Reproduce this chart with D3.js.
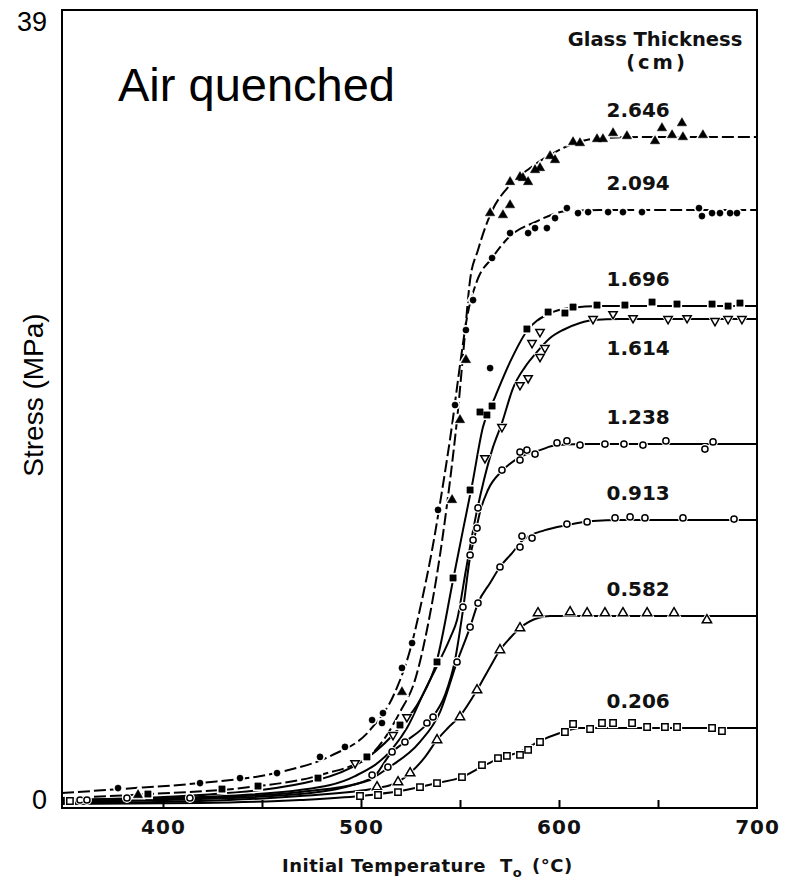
<!DOCTYPE html>
<html>
<head>
<meta charset="utf-8">
<script src="https://cdn.jsdelivr.net/npm/d3@7"></script>
<style>
  body { margin: 0; background: #fff; }
  svg { display: block; }
</style>
</head>
<body>
<div id="chart"></div>
<script>
// glass thickness (cm), one per curve
const thickness = ["2.646", "2.094", "1.696", "1.614", "1.238", "0.913", "0.582", "0.206"];

// fitted curves, [initial temperature °C, stress MPa]
const curve2646 = [[349,0.1],[393.4,0.3],[444,0.65],[479.3,1.25],[504.6,2.25],[519.7,4.41],[527.3,6.02],[533.8,8.77],[539.9,12.28],[545,16.04],[549,19.55],[552,22.81],[555.1,26.07],[559.1,27.57],[565.2,29.32],[575.3,30.83],[585.4,31.68],[595.5,32.33],[608.1,32.93],[620.7,33.18],[640.9,33.23],[700,33.23]];
const curve2094 = [[349,0.35],[378.3,0.55],[418.7,0.85],[459.1,1.4],[484.4,2.2],[504.6,3.51],[517.2,5.41],[524.8,7.52],[530.8,10.03],[535.9,12.53],[541,15.54],[546,18.8],[550,21.8],[553.5,24.16],[558.6,26.02],[566.2,27.17],[575.3,28.27],[587.9,28.97],[604,29.52],[620.7,29.57],[700,29.57]];
const curve1696 = [[349,0],[418.7,0.25],[477.8,1.0],[503,2.1],[519.7,3.66],[529.8,5.01],[538.4,7.02],[546.5,11.03],[551.5,13.53],[556.1,15.79],[561.6,18.7],[567.7,20.2],[575.3,21.96],[583.8,23.51],[594.5,24.36],[605.6,24.66],[620.7,24.76],[700,24.76]];
const curve1614 = [[349,0],[418.7,0.15],[469.2,0.5],[497,1.2],[516.2,2.61],[523.2,3.61],[532.3,5.51],[539.9,7.02],[545,8.12],[548.5,9.02],[553,11.53],[557.6,14.03],[562.1,16.04],[566.2,17.54],[571.2,18.9],[576.8,20.65],[582.8,21.7],[588.9,22.46],[595.5,23.16],[602,23.56],[610.6,23.91],[617.2,24.06],[630.8,24.11],[700,24.11]];
const curve1238 = [[349,-0.05],[418.7,0.1],[469.2,0.4],[504.6,1.0],[515.7,2.41],[522.2,2.91],[534.9,4.01],[542.4,5.26],[547.5,7.02],[551.5,9.52],[555.1,12.18],[557.6,13.28],[560.1,14.44],[564.1,15.54],[571.2,16.49],[580.3,17.19],[590.4,17.54],[599,17.79],[615.7,17.84],[700,17.84]];
const curve0913 = [[349,-0.1],[418.7,0.05],[469.2,0.3],[505.6,1.1],[513.6,1.6],[529.8,2.91],[539.9,4.41],[548.5,6.92],[555.1,8.67],[559.1,9.87],[565.2,10.88],[570.2,11.68],[576.3,12.38],[581.8,13.03],[592.9,13.53],[604,13.78],[617.2,13.98],[630.8,14.03],[700,14.03]];
const curve0582 = [[349,-0.15],[418.7,-0.05],[469.2,0.2],[508.1,0.6],[518.7,0.9],[524.8,1.35],[532.3,2.15],[538.4,3.01],[543.9,3.61],[550,4.21],[558.6,5.51],[565.2,6.67],[570.2,7.52],[575.3,8.12],[580.3,8.62],[589.4,9.12],[595.5,9.22],[700,9.22]];
const curve0206 = [[349,-0.2],[418.7,-0.15],[469.2,0],[499.5,0.2],[519.7,0.45],[538.4,0.85],[551,1.15],[561.6,1.7],[570.2,2.1],[580.3,2.41],[590.4,2.96],[600.5,3.36],[610.6,3.61],[700,3.61]];

// measured points
const pts2646 = [[387.4,0.25],[520.7,5.41],[546,15.04],[550,19.05],[553,22.06],[556.1,25.06],[565.2,29.42],[571.7,29.32],[575.3,29.82],[575.3,30.98],[580.3,31.23],[581.8,31.18],[584.4,30.98],[587.9,31.58],[590.4,31.68],[595.5,32.28],[598,32.08],[607.1,32.98],[610.6,32.93],[619.2,33.13],[622.2,33.13],[627.3,33.43],[634.3,33.28],[648.5,33.03],[652,33.68],[657.1,33.33],[662.1,33.93],[662.6,33.23],[672.7,33.33]];
const pts2094 = [[377.3,0.6],[418.7,0.85],[438.9,1.1],[457.6,1.35],[479.3,2.16],[491.9,2.66],[505.6,4.01],[510.6,3.86],[511.1,4.36],[520.7,6.62],[525.8,7.87],[538.9,14.54],[547.5,19.8],[553,23.56],[556.6,25.06],[565.2,21.65],[566.2,27.17],[575.3,28.42],[584.4,28.42],[587.9,28.67],[593.9,28.67],[598,29.17],[604,29.67],[609.6,29.42],[614.7,29.47],[624.8,29.47],[632.3,29.47],[641.9,29.47],[670.7,29.67],[672.2,29.27],[677.3,29.42],[681.3,29.42],[686.4,29.42],[689.9,29.42]];
const pts1696 = [[392.4,0.3],[429.8,0.55],[448,0.7],[478.3,1.1],[503,2.16],[519.7,3.76],[538.4,6.92],[546.5,11.13],[555.1,15.54],[560.1,19.45],[563.6,19.3],[566.2,19.75],[583.8,23.61],[594.5,24.46],[603,24.41],[607.1,24.71],[619.2,24.81],[633.3,24.81],[647,24.96],[659.6,24.86],[677.3,24.86],[685.4,24.76],[691.4,24.91]];
const pts1614 = [[497,1.85],[516.2,3.26],[523.2,4.16],[562.6,17.14],[571.2,18.7],[580.3,20.8],[584.4,21.15],[586.4,22.91],[590.4,22.21],[592.9,22.66],[590.4,23.46],[617.2,24.11],[627.3,24.36],[637.4,24.16],[655.1,24.11],[664.7,24.16],[678.8,24.01],[685.4,24.11],[692.4,24.11]];
const pts1238 = [[358.1,0],[515.7,2.41],[522.2,2.91],[533.3,3.86],[536.4,4.16],[551.5,9.67],[555.1,12.28],[556.6,13.03],[558.6,13.63],[559.1,14.64],[571.2,16.54],[580.3,17.44],[583.8,17.54],[587.9,17.34],[580.3,17.04],[599,17.9],[604,18.0],[610.6,17.79],[623.2,17.84],[632.8,17.84],[642.4,17.79],[654,18.0],[673.7,17.59],[677.8,17.95]];
const pts0913 = [[361.6,0],[381.8,0.1],[413.6,0.1],[505.6,1.25],[513.6,1.65],[548.5,6.92],[555.1,8.67],[559.1,9.87],[570.2,11.68],[580.3,12.68],[581.3,13.23],[586.4,13.13],[604,13.83],[614.2,13.94],[628.3,14.14],[635.9,14.19],[643.4,14.14],[662.6,14.14],[688.4,14.08]];
const pts0582 = [[508.1,0.65],[518.7,0.9],[524.8,1.35],[538.4,3.01],[550,4.16],[558.6,5.51],[570.2,7.52],[580.3,8.62],[589.4,9.37],[605.6,9.42],[614.2,9.37],[623.2,9.37],[632.3,9.37],[644.5,9.37],[658.1,9.37],[674.7,9.02]];
const pts0206 = [[353,-0.05],[499.5,0.2],[508.6,0.25],[518.7,0.4],[529.8,0.65],[538.4,0.85],[551,1.15],[561.1,1.75],[569.2,2.1],[573.7,2.21],[580.3,2.26],[584.4,2.51],[590.4,2.91],[603,3.41],[607.1,3.81],[615.7,3.56],[621.7,3.86],[627.3,3.86],[636.9,3.86],[644.5,3.66],[653.5,3.66],[659.6,3.66],[677.3,3.61],[682.3,3.46]];

const tempTicks = [400, 500, 600, 700];
const tempMinor = [400, 450, 500, 550, 600, 650];
const stressTicks = [0, 39];

const curves = [curve2646, curve2094, curve1696, curve1614, curve1238, curve0913, curve0582, curve0206];
const points = [pts2646, pts2094, pts1696, pts1614, pts1238, pts0913, pts0582, pts0206];

// marker look per curve
const shapes = ["triangle", "circle", "square", "triangleDown", "circle", "circle", "triangle", "square"];
const filled = [true, true, true, false, false, false, false, false];
const dashes = ["12,4", "12,4", null, null, null, null, null, null];

const series = thickness.map((t, i) => ({
  label: t, line: curves[i], pts: points[i],
  shape: shapes[i], filled: filled[i], dash: dashes[i]
}));

const W = 792, H = 883;
const svg = d3.select("#chart").append("svg")
  .attr("width", W).attr("height", H)
  .attr("font-family", "'DejaVu Sans', sans-serif");

const x = d3.scaleLinear().domain([349, 700]).range([62, 757]);
const y = d3.scaleLinear().domain([-0.4, 39.6]).range([808, 10]);

// curves
const line = d3.line()
  .x(d => x(d[0])).y(d => y(d[1]))
  .curve(d3.curveMonotoneX);

const plot = svg.append("g");

plot.selectAll("path.curve")
  .data(series)
  .join("path")
  .attr("class", "curve")
  .attr("d", d => line(d.line))
  .attr("fill", "none")
  .attr("stroke", "#000")
  .attr("stroke-width", 2)
  .attr("stroke-dasharray", d => d.dash);

// markers, each on a small white patch that breaks the line like the print
const symType = { triangle: d3.symbolTriangle, triangleDown: d3.symbolTriangle, circle: d3.symbolCircle, square: d3.symbolSquare };
const symSize = { triangle: 38, triangleDown: 30, circle: 30, square: 40 };
const place = s => d => `translate(${x(d[0])},${y(d[1])})` + (s.shape === "triangleDown" ? " rotate(180)" : "");

series.forEach(s => {
  const sym = d3.symbol().type(symType[s.shape]).size(symSize[s.shape]);
  const halo = d3.symbol().type(symType[s.shape]).size(symSize[s.shape] * 2.6);
  const g = plot.append("g");
  g.selectAll("path.halo")
    .data(s.pts)
    .join("path")
    .attr("class", "halo")
    .attr("transform", place(s))
    .attr("d", halo)
    .attr("fill", "#fff");
  g.selectAll("path.mark")
    .data(s.pts)
    .join("path")
    .attr("class", "mark")
    .attr("transform", place(s))
    .attr("d", sym)
    .attr("fill", s.filled ? "#000" : "#fff")
    .attr("stroke", "#000")
    .attr("stroke-width", s.filled ? 0.5 : 1.5);
});

// plot frame
svg.append("rect")
  .attr("x", x(349)).attr("y", y(39.6))
  .attr("width", x(700) - x(349)).attr("height", y(-0.4) - y(39.6))
  .attr("fill", "none").attr("stroke", "#000").attr("stroke-width", 2);

// inward ticks along the bottom
svg.append("g")
  .attr("transform", `translate(0,${y(-0.4)})`)
  .call(d3.axisTop(x).tickValues(tempMinor).tickSize(8).tickFormat(""))
  .call(g => g.select(".domain").remove())
  .call(g => g.selectAll("line").attr("stroke-width", 2));

// temperature labels
svg.append("g")
  .attr("transform", `translate(0,${y(-0.4)})`)
  .call(d3.axisBottom(x).tickValues(tempTicks).tickSize(0).tickPadding(12))
  .call(g => g.select(".domain").remove())
  .call(g => g.selectAll("text")
    .attr("font-family", "'DejaVu Sans', sans-serif")
    .attr("font-weight", "bold")
    .attr("font-size", 20).attr("letter-spacing", 1).attr("fill", "#111"));

// stress labels
svg.append("g")
  .attr("transform", `translate(${x(349)},0)`)
  .call(d3.axisLeft(y).tickValues(stressTicks).tickSize(0).tickPadding(15))
  .call(g => g.select(".domain").remove())
  .call(g => g.selectAll("text")
    .attr("font-family", "'Liberation Sans', Arial, sans-serif")
    .attr("font-size", 27).attr("fill", "#000"));

// thickness labels above (or below for 1.614) each plateau
svg.append("g")
  .selectAll("text")
  .data(series)
  .join("text")
  .attr("x", x(624))
  .attr("y", d => y(d.line[d.line.length - 1][1]) + (d.label === "1.614" ? 36 : -20))
  .attr("font-size", 20)
  .attr("font-weight", "bold")
  .attr("fill", "#111")
  .text(d => d.label);

// legend heading
svg.append("text")
  .attr("x", 655).attr("y", 46)
  .attr("text-anchor", "middle")
  .attr("font-size", 19.5).attr("font-weight", "bold").attr("fill", "#111")
  .text("Glass Thickness");
svg.append("text")
  .attr("x", 657).attr("y", 69)
  .attr("text-anchor", "middle")
  .attr("font-size", 19.5).attr("font-weight", "bold").attr("fill", "#111")
  .attr("letter-spacing", 3)
  .text("(cm)");

// panel title
svg.append("text")
  .attr("x", 118).attr("y", 101)
  .attr("font-family", "'Liberation Sans', Arial, sans-serif")
  .attr("font-size", 47)
  .text("Air quenched");

// y title
svg.append("text")
  .attr("transform", "translate(43,395) rotate(-90)")
  .attr("text-anchor", "middle")
  .attr("font-family", "'Liberation Sans', Arial, sans-serif")
  .attr("font-size", 28)
  .text("Stress (MPa)");

// x title
const xt = svg.append("text")
  .attr("y", 872)
  .attr("font-size", 18)
  .attr("font-weight", "bold")
  .attr("fill", "#111")
  .attr("letter-spacing", 0.5);
xt.append("tspan").attr("x", 282).text("Initial Temperature");
xt.append("tspan").attr("x", 500).text("T");
xt.append("tspan").attr("dy", 5).attr("font-size", 13).text("o");
xt.append("tspan").attr("x", 532).attr("dy", -5).text("(°C)");
</script>
</body>
</html>
